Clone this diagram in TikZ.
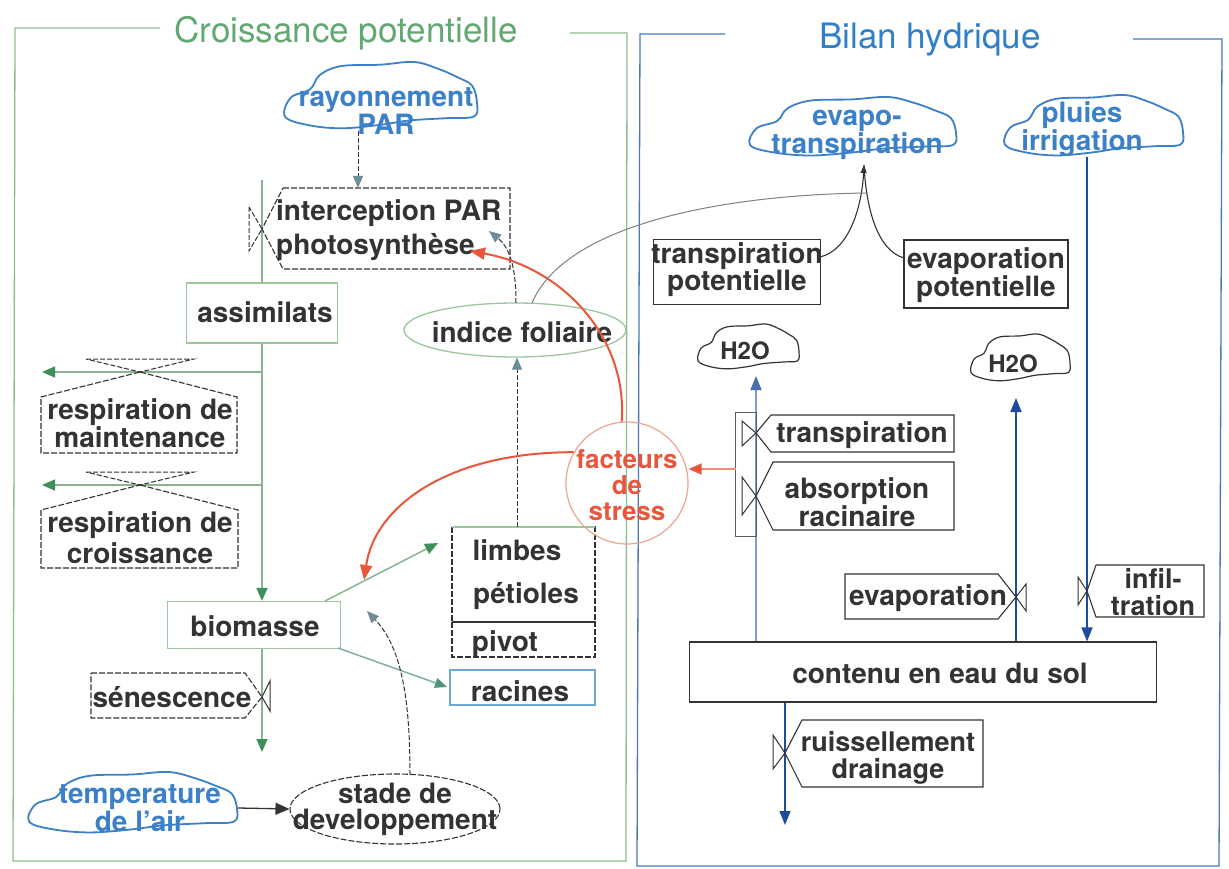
\documentclass[tikz,border=0pt]{standalone}
\usepackage{fontspec}
\setmainfont{TeX Gyre Heros}
\usetikzlibrary{arrows.meta,shapes.geometric,calc}
\definecolor{txt}{HTML}{333333}
\definecolor{gfr}{HTML}{8DBE8D}
\definecolor{gtitle}{HTML}{62A872}
\definecolor{bfr}{HTML}{4A78BC}
\definecolor{btitle}{HTML}{2F80C8}
\definecolor{cblue}{HTML}{3C80C8}
\definecolor{gflow}{HTML}{8CB48F}
\definecolor{garrow}{HTML}{3F8F58}
\definecolor{tipgray}{HTML}{6F8C9A}
\definecolor{dblue}{HTML}{1F4A9E}
\definecolor{lblue}{HTML}{7A9ED0}
\definecolor{redar}{HTML}{E8563C}
\definecolor{orar}{HTML}{EF8E70}
\definecolor{salmon}{HTML}{EBA593}
\definecolor{lgreen}{HTML}{9CC79C}
\definecolor{rblue}{HTML}{6EA8D2}
\newcommand\mkcloud[5][]{\draw[cloudline,#1,shift={(#2,#3)},xscale=#4,yscale=#5] plot[smooth cycle,tension=0.6] coordinates {(-0.98,0.6) (-0.92,0.05) (-0.72,-0.2) (-0.62,-0.62) (-0.4,-0.88) (0,-0.92) (0.35,-1) (0.6,-0.8) (0.8,-0.55) (0.95,-0.3) (1,0.2) (0.97,0.6) (0.7,0.65) (0.3,0.72) (0,0.85) (-0.4,0.95) (-0.75,0.85)};}
\begin{document}
\begin{tikzpicture}[x=1pt,y=-1pt,
  lab/.style={font=\fontsize{28}{25}\selectfont\bfseries, text=txt, align=center, inner sep=0pt},
  bluelab/.style={lab, text=cblue},
  cloudline/.style={draw=cblue, line width=1.8pt},
  dbox/.style={draw=txt, line width=1.1pt, dash pattern=on 6pt off 2pt},
  sbox/.style={draw=txt, line width=1.1pt},
  gbox/.style={draw=lgreen, line width=1.3pt},
  gflowline/.style={draw=gflow, line width=1.5pt, -{Triangle[length=13pt,width=11pt,color=garrow]}},
  gflowplain/.style={draw=gflow, line width=1.5pt},
  infolink/.style={draw=txt, line width=1pt, dash pattern=on 5pt off 2pt, -{Triangle[length=12pt,width=10pt,color=tipgray]}},
  redlink/.style={draw=redar, line width=2pt, -{Triangle[length=15pt,width=12pt]}},
  bflow/.style={draw=dblue, line width=1.6pt, -{Triangle[length=14pt,width=11pt]}},
  lflow/.style={draw=lblue, line width=1.5pt, -{Triangle[length=14pt,width=11pt,color=dblue!80]}},
  valve/.style={draw=txt, line width=1pt}
]
\useasboundingbox (0,0) rectangle (1229,869);
\fill[white] (0,0) rectangle (1229,869);

% ---------- frames and titles
\draw[gfr, line width=1.3pt] (160,28) -- (15,28) -- (13,861) -- (626,861) -- (627,33) -- (570,33);
\draw[bfr, line width=1.3pt] (725,34) -- (640,34) -- (637,866) -- (1219,866) -- (1222,39) -- (1133,39);
\node[font=\fontsize{35}{35}\selectfont, text=gtitle, inner sep=0pt] (tcroiss) at (346,33) {Croissance potentielle};
\node[font=\fontsize{35}{35}\selectfont, text=btitle, inner sep=0pt] (tbilan) at (930,40) {Bilan hydrique};

% ================= LEFT PANEL
% rayonnement PAR
\mkcloud{380}{96}{97}{34}
\node[bluelab, font=\fontsize{28}{22}\selectfont\bfseries] (ray) at (386,111) {rayonnement\\PAR};

% main vertical flow
\coordinate (srcA) at (262,180);
\coordinate (vInt) at (262,229);
\node[lab, gbox, minimum width=151pt, minimum height=60pt] (assim) at (262,313) {};
\node[lab] (assimtxt) at (265,312) {assimilats};
\node[lab, gbox, minimum width=173pt, minimum height=47pt] (bio) at (254,625) {};
\node[lab] (biotxt) at (255,626) {biomasse};
\draw[gflowplain] (srcA) -- (assim.north);
\draw[gflowline] (assim.south) -- (assim.south |- bio.north);

% interception / photosynthese
\draw[dbox, fill=white] (283,188) -- (510,188) -- (510,269) -- (283,269) -- (vInt) -- cycle;
\draw[valve, dash pattern=on 5pt off 2pt] (249,207) -- (249,251) -- (vInt) -- cycle;
\node[lab, align=left, anchor=west, font=\fontsize{28}{34}\selectfont\bfseries] (interc) at (276,230) {interception PAR\\photosynthèse};
\coordinate (rayB) at (358,131);
\coordinate (intT) at (358,188);
\draw[infolink] (rayB) -- (intT);

% respiration de maintenance
\coordinate (rmS) at (262,372);
\coordinate (rmE) at (42,372);
\coordinate (rmV) at (140,372);
\draw[gflowline] (rmS) -- (rmE);
\draw[valve, dash pattern=on 5pt off 2pt] (86,359) -- (194,359) -- (rmV) -- cycle;
\draw[dbox] (rmV) -- (237,397) -- (237,453) -- (41,453) -- (41,397) -- cycle;
\node[lab, font=\fontsize{28}{25}\selectfont\bfseries] (rmaint) at (140,423) {respiration de\\maintenance};

% respiration de croissance
\coordinate (rcS) at (262,485);
\coordinate (rcE) at (42,485);
\coordinate (rcV) at (140,485);
\draw[gflowline] (rcS) -- (rcE);
\draw[valve, dash pattern=on 5pt off 2pt] (86,472) -- (194,472) -- (rcV) -- cycle;
\draw[dbox] (rcV) -- (238,510) -- (238,568) -- (41,568) -- (41,510) -- cycle;
\node[lab, font=\fontsize{28}{31}\selectfont\bfseries] (rcroiss) at (140,538) {respiration de\\croissance};

% senescence
\coordinate (sinkB) at (262,752);
\coordinate (senV) at (262,697);
\draw[gflowline] (assim.south |- bio.south) -- (sinkB);
\draw[dbox] (91,673) -- (245,673) -- (senV) -- (245,718) -- (91,718) -- cycle;
\draw[valve] (270,681) -- (270,711) -- (senV) -- cycle;
\node[lab] (senesc) at (172,697) {sénescence};

% organs
\draw[dbox] (452,527) rectangle (595,622);
\draw[draw=lgreen, line width=1.2pt] (452,527) -- (595,527);
\draw[dbox] (452,622) rectangle (595,657);
\draw[draw=rblue, line width=1.3pt] (450,670) rectangle (595,705);
\node[lab] (limbes) at (517,550) {limbes};
\node[lab] (petioles) at (526,596) {pétioles};
\node[lab] (pivot) at (505,644) {pivot};
\node[lab] (racines) at (520,691) {racines};
\coordinate (bioTR) at (325,601);
\coordinate (limbIn) at (438,543);
\coordinate (bioBR) at (338,648);
\coordinate (racIn) at (447,687);
\draw[gflowline] (bioTR) -- (limbIn);
\draw[draw=gflow!60!rblue, line width=1.5pt, -{Triangle[length=12pt,width=10pt,color=garrow!70!rblue]}] (bioBR) -- (racIn);

% indice foliaire
\node[ellipse, draw=lgreen, line width=1.3pt, minimum width=222pt, minimum height=54pt, inner sep=0pt] (lai) at (515,330) {};
\node[lab] (laitxt) at (522,332) {indice foliaire};
\coordinate (limbT) at (517,527);
\draw[infolink] (limbT) -- (lai.south -| limbT);
\coordinate (laiT) at (516,303);
\coordinate (intR) at (489,231);
\draw[infolink] (laiT) .. controls (516,268) and (510,248) .. (intR);

% facteurs de stress
\node[circle, draw=salmon, line width=1.2pt, minimum size=122pt, inner sep=0pt] (stress) at (627,483) {};
\node[lab, text=redar, font=\fontsize{26}{26}\selectfont\bfseries] (stresstxt) at (627,485) {facteurs\\de\\stress};
\coordinate (photoIn) at (470,251);
\coordinate (bioArr) at (364,580);
\draw[redlink] (stress.95) .. controls (628,340) and (565,268) .. (photoIn);
\draw[redlink] (stress.150) .. controls (450,452) and (375,505) .. (bioArr);

% temperature / stade de developpement
\mkcloud{132}{803}{105}{31}
\node[bluelab] (temp) at (140,808) {temperature\\de l'air};
\node[ellipse, draw=txt, line width=1.1pt, dash pattern=on 6pt off 2pt, minimum width=210pt, minimum height=70pt, inner sep=0pt] (stade) at (395,809) {};
\node[lab, font=\fontsize{28}{26}\selectfont\bfseries] (stadetxt) at (395,809) {stade de\\developpement};
\coordinate (tempR) at (238,808);
\draw[draw=txt, line width=1.3pt, -{Triangle[length=14pt,width=12pt]}] (tempR) -- (stade.west);
\coordinate (stadeT) at (410,775);
\coordinate (bioInfo) at (367,611);
\draw[infolink] (stadeT) .. controls (410,700) and (402,648) .. (bioInfo);

% ================= RIGHT PANEL
\mkcloud{852}{127}{104}{30}
\node[bluelab, font=\fontsize{28}{22}\selectfont\bfseries] (etp) at (857,135) {evapo-\\transpiration};
\mkcloud{1093}{126}{90}{31}
\node[bluelab] (pluie) at (1082,129) {pluies\\irrigation};

\node[sbox, minimum width=167pt, minimum height=65pt] (tpot) at (737,272) {};
\node[lab, font=\fontsize{28}{27}\selectfont\bfseries] (tpottxt) at (737,270) {transpiration\\potentielle};
\node[sbox, minimum width=164pt, minimum height=68pt] (epot) at (986,274) {};
\node[lab] (epottxt) at (986,275) {evaporation\\potentielle};

\coordinate (jn) at (864,165);
\coordinate (tpotR) at (820,257);
\coordinate (epotL) at (904,258);
\draw[draw=txt, line width=1.1pt, -{Triangle[length=8pt,width=6pt]}] (tpotR) .. controls (850,250) and (862,205) .. (jn);
\draw[draw=txt, line width=1.1pt] (epotL) .. controls (876,250) and (866,205) .. (jn);
\coordinate (jnMid) at (866,193);
\draw[draw=gray, line width=1pt] (532,303) .. controls (565,225) and (720,195) .. (jnMid);

% H2O clouds
\mkcloud[draw=txt, line width=1.2pt]{748}{347}{51}{23}
\node[lab, font=\fontsize{24}{24}\selectfont\bfseries] (h2oA) at (745,351) {H2O};
\mkcloud[draw=txt, line width=1.2pt]{1020}{358}{50}{24}
\node[lab, font=\fontsize{24}{24}\selectfont\bfseries] (h2oB) at (1013,364) {H2O};

% soil water content
\node[sbox, minimum width=467pt, minimum height=60pt] (sol) at (923,672) {};
\node[lab] (soltxt) at (940,673) {contenu en eau du sol};

% transpiration / absorption
\coordinate (trTop) at (756,376);
\draw[lflow] (sol.north -| trTop) -- (trTop);
\draw[draw=txt!80, line width=1pt] (735,412) rectangle (756,536);
\coordinate (trV) at (756,433);
\draw[sbox, fill=white] (771,415) -- (954,415) -- (954,452) -- (771,452) -- (trV) -- cycle;
\draw[valve] (742,421) -- (742,446) -- (trV) -- cycle;
\node[lab] (transp) at (862,435) {transpiration};
\coordinate (abV) at (756,496);
\draw[sbox, fill=white] (773,462) -- (954,462) -- (954,530) -- (773,530) -- (abV) -- cycle;
\draw[valve] (742,477) -- (742,515) -- (abV) -- cycle;
\node[lab] (absorp) at (857,502) {absorption\\racinaire};
\coordinate (grpL) at (736,469);
\draw[draw=orar, line width=1.5pt, -{Triangle[length=13pt,width=11pt,color=redar]}] (grpL) -- (stress.east |- grpL);

% evaporation
\coordinate (evTop) at (1016,398);
\draw[bflow] (sol.north -| evTop) -- (evTop);
\coordinate (evV) at (1016,597);
\draw[sbox, fill=white] (845,574) -- (998,574) -- (evV) -- (998,619) -- (845,619) -- cycle;
\draw[valve] (1026,584) -- (1026,611) -- (evV) -- cycle;
\node[lab] (evap) at (928,598) {evaporation};

% infiltration
\coordinate (infX) at (1087,157);
\draw[bflow] (infX) -- (sol.north -| infX);
\coordinate (infV) at (1087,591);
\draw[sbox, fill=white] (1096,565) -- (1204,565) -- (1204,617) -- (1096,617) -- (infV) -- cycle;
\draw[valve] (1078,577) -- (1078,605) -- (infV) -- cycle;
\node[lab, font=\fontsize{27}{27}\selectfont\bfseries] (infil) at (1153,592) {infil-\\tration};

% ruissellement / drainage
\coordinate (drB) at (785,825);
\draw[bflow] (sol.south -| drB) -- (drB);
\coordinate (drV) at (785,753);
\draw[sbox, fill=white] (802,720) -- (983,720) -- (983,787) -- (802,787) -- (drV) -- cycle;
\draw[valve] (773,735) -- (773,769) -- (drV) -- cycle;
\node[lab, font=\fontsize{27}{27}\selectfont\bfseries] (drain) at (888,758) {ruissellement\\drainage};
\end{tikzpicture}
\end{document}
